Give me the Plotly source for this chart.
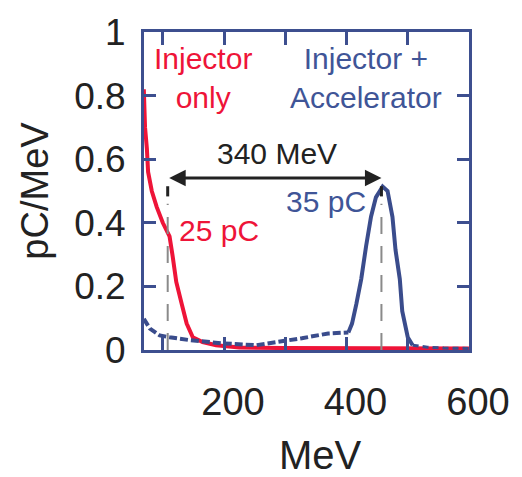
import plotly.graph_objects as go

# ---------------- data ----------------
# Injector only (red)
red_mev = [69, 71, 74, 76, 82, 90, 100, 111, 116, 122, 131, 139, 149, 165, 187, 225, 300, 400, 500, 600]
red_val = [0.82, 0.70, 0.633, 0.56, 0.50, 0.45, 0.40, 0.357, 0.296, 0.214, 0.144, 0.083, 0.040, 0.025,
           0.015, 0.008, 0.006, 0.006, 0.005, 0.005]

# Injector + Accelerator (blue) - low-energy shoulder
blue_low_mev = [69, 79, 95, 111, 144, 197, 252, 289, 327, 370, 390, 403]
blue_low_val = [0.098, 0.067, 0.046, 0.040, 0.031, 0.021, 0.015, 0.025, 0.037, 0.052, 0.055, 0.055]
# peak
blue_peak_mev = [403, 409, 416, 424, 432, 440, 448, 459, 467, 475, 480, 487, 491, 500, 508]
blue_peak_val = [0.055, 0.083, 0.144, 0.223, 0.327, 0.419, 0.48, 0.514, 0.50, 0.419, 0.315, 0.223,
                 0.122, 0.040, 0.015]
# high-energy tail
blue_tail_mev = [508, 532, 559, 580, 600]
blue_tail_val = [0.015, 0.009, 0.006, 0.005, 0.005]

# energy gap markers
gap_left = 108
gap_right = 457
gap_label = "340 MeV"

x_tickvals = [100, 200, 300, 400, 500, 600]
x_ticktext = ["", "200", "", "400", "", "600"]
y_tickvals = [0, 0.2, 0.4, 0.6, 0.8, 1.0]
y_ticktext = ["0", "0.2", "0.4", "0.6", "0.8", "1"]

# ---------------- style ----------------
RED = "#ee1438"
BLUE = "#3a4c8c"
TEXT_BLUE = "#3f5597"
FRAME = "#3d4f8f"
FONT = "Liberation Sans, Arial, sans-serif"

fig = go.Figure()

fig.add_trace(go.Scatter(x=red_mev, y=red_val, mode="lines",
                         line=dict(color=RED, width=4), showlegend=False))
fig.add_trace(go.Scatter(x=blue_low_mev, y=blue_low_val, mode="lines",
                         line=dict(color=BLUE, width=4, dash="8px,3px"), showlegend=False))
fig.add_trace(go.Scatter(x=blue_peak_mev, y=blue_peak_val, mode="lines",
                         line=dict(color=BLUE, width=4), showlegend=False))
fig.add_trace(go.Scatter(x=blue_tail_mev, y=blue_tail_val, mode="lines",
                         line=dict(color=BLUE, width=3, dash="6px,4px"), showlegend=False))

# dashed gap lines
for gx in (gap_left, gap_right):
    fig.add_shape(type="line", x0=gx, x1=gx, y0=0, y1=0.46, xref="x", yref="y",
                  line=dict(color="#8a8a8a", width=2, dash="17px,12px"))
    fig.add_shape(type="line", x0=gx, x1=gx, y0=0.483, y1=0.515, xref="x", yref="y",
                  line=dict(color="#222222", width=3))

# double arrow
fig.add_annotation(x=gap_right, y=0.541, ax=gap_left, ay=0.541, xref="x", yref="y",
                   axref="x", ayref="y", text="", showarrow=True, arrowhead=2, arrowside="end+start",
                   arrowsize=1.1, arrowwidth=3, arrowcolor="#222222")

ann_font = 30
fig.add_annotation(x=166, y=0.855, text="Injector<br>only", showarrow=False,
                   font=dict(family=FONT, size=ann_font, color=RED))
fig.add_annotation(x=432, y=0.855, text="Injector +<br>Accelerator", showarrow=False,
                   font=dict(family=FONT, size=ann_font, color=TEXT_BLUE))
fig.add_annotation(x=286, y=0.618, text=gap_label, showarrow=False,
                   font=dict(family=FONT, size=ann_font, color="#222222"))
fig.add_annotation(x=367, y=0.468, text="35 pC", showarrow=False,
                   font=dict(family=FONT, size=ann_font, color=TEXT_BLUE))
fig.add_annotation(x=191, y=0.376, text="25 pC", showarrow=False,
                   font=dict(family=FONT, size=ann_font, color=RED))

# x-axis title (placed like in the reference, slightly right of centre)
fig.add_annotation(x=0.543, y=-0.33, xref="paper", yref="paper", text="MeV", showarrow=False,
                   xanchor="center", yanchor="middle",
                   font=dict(family=FONT, size=40, color="#222222"))

fig.update_layout(
    width=522, height=477,
    margin=dict(l=144, r=50, t=23, b=127),
    paper_bgcolor="white", plot_bgcolor="white",
    font=dict(family=FONT, color="#222222"),
    xaxis=dict(range=[69.3, 600], tickvals=x_tickvals, ticktext=x_ticktext,
               ticks="inside", ticklen=13, tickwidth=3, tickcolor=FRAME,
               showline=True, linewidth=3, linecolor=FRAME, mirror="ticks",
               showgrid=False, zeroline=False,
               tickfont=dict(family=FONT, size=38, color="#222222"),
               ticklabelstandoff=16, ticklabelshift=9),
    yaxis=dict(range=[0, 1], tickvals=y_tickvals, ticktext=y_ticktext,
               ticks="inside", ticklen=12, tickwidth=3, tickcolor=FRAME,
               showline=True, linewidth=3, linecolor=FRAME, mirror="ticks",
               showgrid=False, zeroline=False,
               tickfont=dict(family=FONT, size=37, color="#222222"),
               ticklabelstandoff=8,
               title=dict(text="pC/MeV", font=dict(family=FONT, size=38, color="#222222"), standoff=14)),
)

fig.write_html("out.html")
